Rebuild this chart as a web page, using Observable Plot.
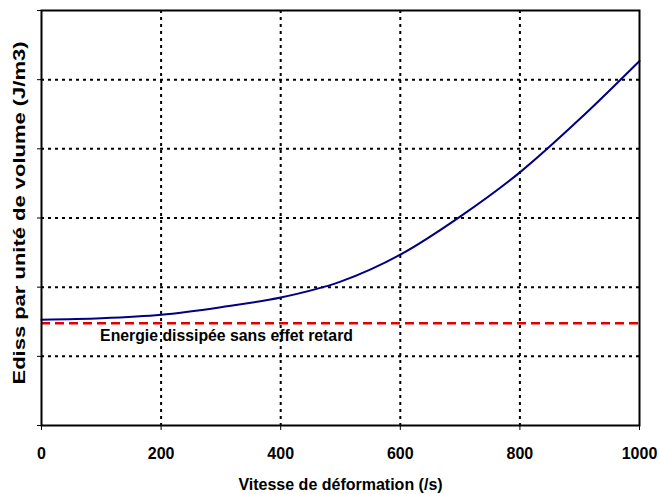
<!DOCTYPE html>
<html>
<head>
<meta charset="utf-8">
<script src="https://cdn.jsdelivr.net/npm/d3@7"></script>
<script src="https://cdn.jsdelivr.net/npm/@observablehq/plot@0.6"></script>
<style>
  html, body { margin: 0; padding: 0; background: #fff; }
  #chart svg { display: block; }
</style>
</head>
<body>
<div id="chart"></div>
<script>
// Strain rate (/s) and dissipated energy per unit volume (arbitrary units)
const rates = [0, 100, 200, 300, 400, 500, 600, 700, 800, 900, 1000];
const energy = [1.53, 1.55, 1.60, 1.71, 1.85, 2.08, 2.47, 3.02, 3.66, 4.43, 5.27];

// Energy dissipated without delay effect (constant reference level)
const baseline = 1.48;
const baselineLabel = "Energie dissipée sans effet retard";

const xTicks = [0, 200, 400, 600, 800, 1000];
const yGrid = [1, 2, 3, 4, 5];
const yTicks = [0, 1, 2, 3, 4, 5, 6];

const curve = rates.map((r, i) => ({rate: r, e: energy[i]}));

const chart = Plot.plot({
  width: 659,
  height: 494,
  marginLeft: 41,
  marginRight: 20,
  marginTop: 10,
  marginBottom: 69,
  style: {fontFamily: "'Liberation Sans', Arial, sans-serif", color: "#000", background: "#fff"},
  x: {domain: [0, 1000]},
  y: {domain: [0, 6]},
  marks: [
    // dotted grid
    Plot.ruleY(yGrid, {stroke: "#000", strokeWidth: 2, strokeDasharray: "3,4"}),
    Plot.ruleX(xTicks.slice(1, -1), {stroke: "#000", strokeWidth: 2, strokeDasharray: "3,4"}),
    // axes
    Plot.axisX({
      ticks: xTicks, tickSize: 5, tickPadding: 17, tickFormat: d => String(d),
      fontSize: 16, fontWeight: "bold",
      label: "Vitesse de déformation (/s)", labelAnchor: "center", labelArrow: "none", labelOffset: 64
    }),
    Plot.axisY({
      ticks: yTicks, tickSize: 4, tickFormat: () => "",
      label: "Ediss par unité de volume (J/m3)", labelAnchor: "center", labelArrow: "none", labelOffset: 28
    }),
    // reference level
    Plot.ruleY([baseline], {stroke: "#e00000", strokeWidth: 2.5, strokeDasharray: "9,5"}),
    Plot.text([baselineLabel], {
      x: 98, y: 1.3, text: d => d, textAnchor: "start",
      fontSize: 15.8, fontWeight: "bold", fill: "#000"
    }),
    // dissipated energy curve
    Plot.line(curve, {x: "rate", y: "e", stroke: "#000080", strokeWidth: 2, curve: "monotone-x"}),
    Plot.frame({stroke: "#000", strokeWidth: 2})
  ]
});

// bold axis titles; the vertical title is stretched along its length
chart.querySelectorAll("[aria-label='x-axis label'] text").forEach(t => {
  t.setAttribute("font-weight", "bold");
  t.setAttribute("font-size", "16");
});
chart.querySelectorAll("[aria-label='y-axis label'] text").forEach(t => {
  t.setAttribute("font-weight", "bold");
  t.setAttribute("font-size", "16");
  t.setAttribute("textLength", "343");
  t.setAttribute("lengthAdjust", "spacingAndGlyphs");
  t.setAttribute("dx", "5");
});

document.getElementById("chart").appendChild(chart);
</script>
</body>
</html>
